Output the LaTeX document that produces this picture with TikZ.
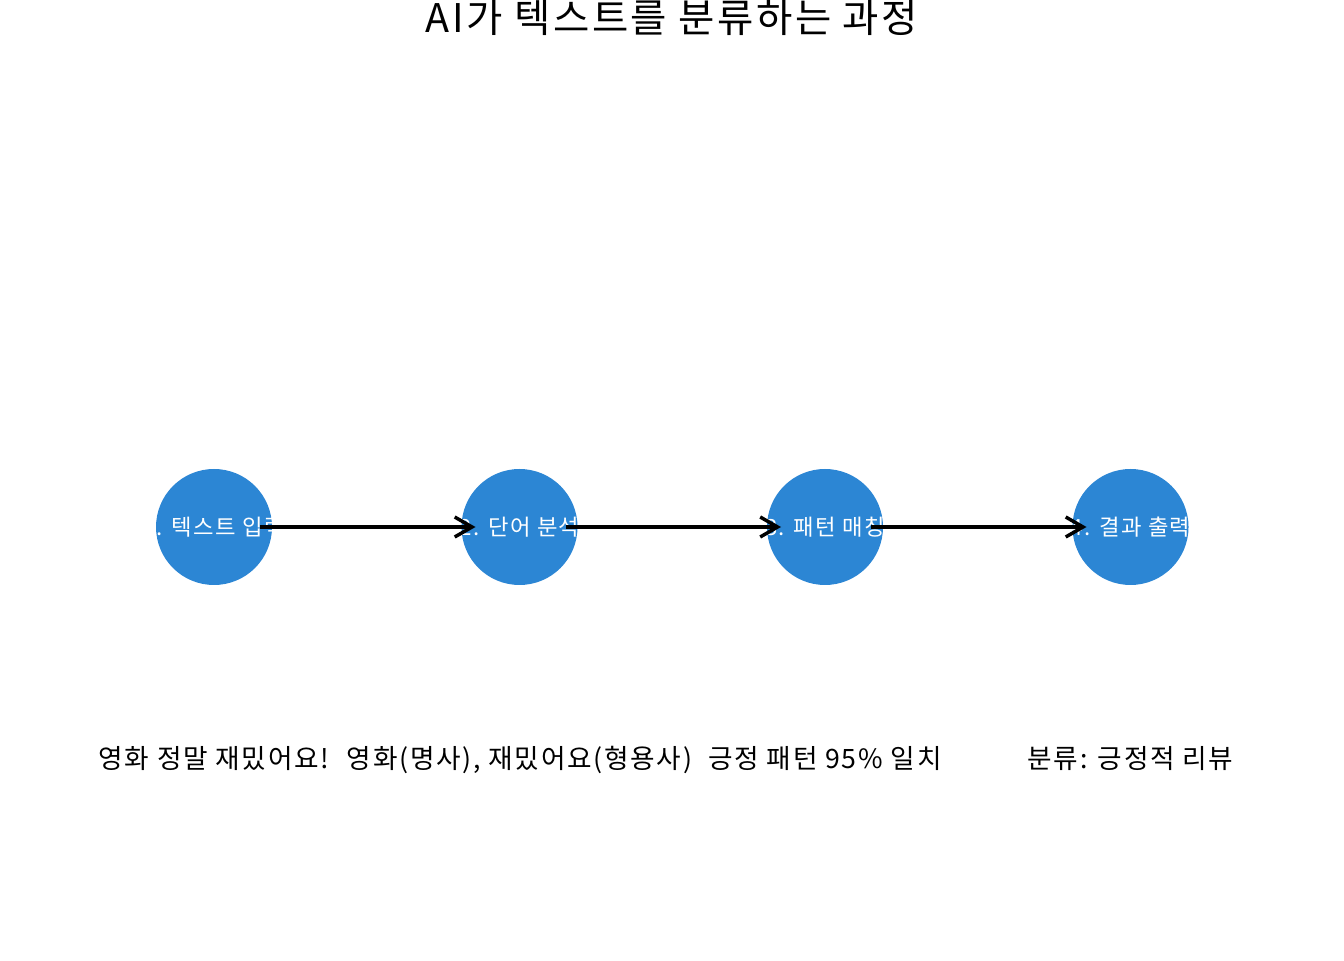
\documentclass[tikz,border=0pt]{standalone}
\usepackage{fontspec}
\setmainfont[LetterSpace=6.5]{Noto Sans CJK KR}
\usetikzlibrary{arrows.meta}
\definecolor{stageblue}{RGB}{44,134,212}
\tikzset{
  stage/.style={circle, fill=stageblue, minimum size=87pt, inner sep=0pt},
  stagetext/.style={text=white, font=\fontsize{16.7pt}{20pt}\selectfont},
  flow/.style={-{Straight Barb[length=13pt,width=15pt,line width=2.6pt]}, line width=2.6pt, shorten <=34.5pt, shorten >=33pt},
  note/.style={anchor=base, font=\fontsize{20pt}{24pt}\selectfont}
}
\begin{document}
\begin{tikzpicture}[x=0.75pt,y=0.75pt]
  \useasboundingbox (0,0) rectangle (1344,960);
  \node[anchor=base, font=\fontsize{29.6pt}{36pt}\selectfont] (title) at (672,927) {AI가 텍스트를 분류하는 과정};
  \node[stage, label={[stagetext]center:1. 텍스트 입력}] (input) at (214,433) {};
  \node[stage, label={[stagetext]center:2. 단어 분석}] (words) at (519.5,433) {};
  \node[stage, label={[stagetext]center:3. 패턴 매칭}] (match) at (825,433) {};
  \node[stage, label={[stagetext]center:4. 결과 출력}] (output) at (1130.5,433) {};
  \draw[flow] (input.center) -- (words.center);
  \draw[flow] (words.center) -- (match.center);
  \draw[flow] (match.center) -- (output.center);
  \node[note] (inputnote) at (214,191.5) {영화 정말 재밌어요!};
  \node[note] (wordsnote) at (519.5,191.5) {영화(명사), 재밌어요(형용사)};
  \node[note] (matchnote) at (825,191.5) {긍정 패턴 95\% 일치};
  \node[note] (outputnote) at (1130.5,191.5) {분류: 긍정적 리뷰};
\end{tikzpicture}
\end{document}
